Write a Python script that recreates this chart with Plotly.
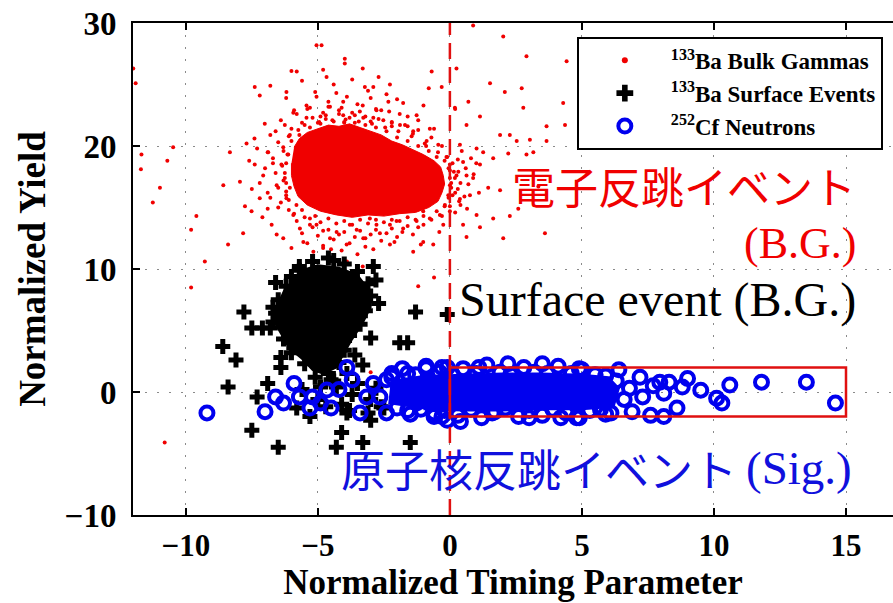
import plotly.graph_objects as go

# ---------------- data (normalized timing parameter, normalized yield) ----------------
# 133Ba bulk gammas: outline of the saturated high-density region
bulk_core_x = [-5.9, -5.7, -5.4, -5.0, -4.6, -4.2, -3.8, -3.4, -3.0, -2.6, -2.2, -1.8, -1.4,
               -1.0, -0.6, -0.35, -0.25, -0.2, -0.3, -0.45, -0.8, -1.3, -1.9, -2.5, -3.1,
               -3.7, -4.3, -4.9, -5.4, -5.75, -5.9, -6.0, -6.0]
bulk_core_y = [19.9, 20.6, 21.1, 21.4, 21.7, 21.6, 21.8, 21.5, 21.2, 20.9, 20.4, 20.1, 19.7,
               19.3, 18.8, 18.3, 17.6, 16.9, 16.2, 15.5, 15.0, 14.6, 14.5, 14.3, 14.4,
               14.2, 14.4, 14.7, 15.2, 15.9, 16.7, 17.6, 18.6]

# 133Ba bulk gammas: individual events around the dense region and outliers
bulk_x = [-5.8, -5.3, -4.9, -4.6, -4.2, -3.9, -3.6, -3.3, -2.9, -2.6, -2.2, -1.9, -1.6, -1.2,
          -5.1, -4.4, -3.7, -5.6, -3.1, -2.4, -6.2, -4.0, -5.0, -6.4, -1.0, -0.6, -2.0, -4.8,
          -3.3, -6.0, -2.7, -0.8, 0.2, -6.8,
          -5.8, -5.05, -4.86, -3.98, -3.98, -4.67, -7.39, -7.2, -6.19, -3.22, -2.9, -2.27,
          -0.69, -0.31, 0.25, 0.88, 2.02, 2.9, 4.42, 2.08, 2.72, 1.52, 4.29, 4.36, 3.66,
          2.78, 2.27, 3.03, 2.53, 1.14, 1.9, 3.6, 2.02, 2.27, 2.59, 1.64, 1.9, 1.45, 3.35,
          2.9, 2.21, 3.16, 3.66, 0.63, 1.14, 1.01, 0.5, 0.38, 0.76, 0.63, 1.14, 1.01, 0.32,
          0.38, 0.63, 0.7, 0.19, -11.68, -10.98, -10.48, -9.6, -9.28, -8.4, -7.83, -8.58,
          -8.33, -7.95, -7.7, -7.39, -7.76, -7.51, -7.2, -7.07, -6.88, -7.01, -6.56, -6.75,
          -6.56, -6.31, -6.0, -5.55, -5.17, -4.54, -4.8, -3.91, -3.28, -2.65, -2.27, -1.77,
          -1.01, -0.63, -1.39, -0.25, 0.0, -0.06, 0.19, 0.0, -0.44, -0.76, -1.26, -1.77,
          -2.33, -2.78, -3.41, -4.04, -4.54, -5.05, -5.43, -5.93, -6.25, -6.06, -6.31, -6.38,
          -6.25, -6.19, -5.93, -5.68, -5.05, -4.29, -3.53, -2.78, -2.02, -1.26, -0.76, -0.19,
          0.0, -0.13, -0.88, -1.39, -1.89, -2.52, -3.28, -4.04, -4.8, -5.43, -5.74, -6.12,
          -6.06, -5.81, -5.3, -4.54, -3.79, -3.03, -2.27, -1.01, -0.38, 0.5, 0.88, 1.26, 1.64,
          -11.99, -10.8, -9.8, -9.8, -11.25, -10.7, -11.7, -11.9, -1.2, -0.6, -3.0,
          -5.6, -5.2, -4.95, -4.7, -4.45, -4.2, -3.95, -3.7, -3.45, -3.2, -2.95, -2.7, -2.45,
          -2.2, -1.95, -1.7, -1.45, -1.2, -0.95, -0.7, -0.45, -0.3,
          -5.4, -4.6, -4.1, -3.5, -2.8, -2.3, -1.6, -5.9, -3.0, -4.3,
          -0.1, 0.1, 0.0, 0.25, 0.05, 0.3, 0.1, 0.35, 0.0, 0.2, -0.3, 0.6, 0.7, 0.55, 0.8,
          0.45, 0.9, 0.65, 1.1, 1.0,
          -0.7, -1.0, -1.3, -1.6, -1.9, -2.2, -2.5, -2.8, -3.1, -3.4, -3.7, -4.0, -4.3, -4.6,
          -4.9, -5.2, -5.5, -5.8, -1.4, -2.0, -2.6, -3.2, -3.8, -4.4, -5.0, -5.6, -4.1, -3.5,
          -2.9, -4.8, -3.9, -4.6, -3.3,
          -6.1, -6.4, -6.2, -6.5, -6.3, -6.6, -6.35, -6.7, -6.3, -6.5, -6.1, -6.9, -7.0, -6.8,
          -7.2, -6.9, -7.3, -6.0,
          -5.7, -5.3, -4.9, -4.4, -4.0, -3.6, -3.2, -2.8, -2.4, -2.0, -1.6, -1.2, -0.8, -0.5,
          -5.5, -4.7, -3.8, -3.0, -2.2, -1.4, -0.9, -0.2,
          -0.05, 0.0, 0.05, -0.05, -0.2, -0.5, 0.2, 0.15, 0.3, 0.4, 0.4,
          -1.0, -1.6, -2.2, -2.8, -3.4, -4.0, -4.6, -5.1, -5.6, -1.2, -1.8, -2.4, -3.0, -3.6,
          -4.2, -4.8, -5.3, -5.9, -2.1, -3.2, -4.5, -5.4, -1.1, -0.4,
          -6.1, -6.2, -6.2, -6.25, -6.2, -6.15, -6.0, -6.5, -6.8, -6.7, -6.6, -6.9, -7.5, -7.6,
          -7.4, -7.1]
bulk_y = [22.6, 23.1, 22.4, 23.6, 22.9, 24.0, 22.5, 23.3, 22.3, 22.9, 21.9, 22.6, 21.6, 22.1,
          24.4, 25.0, 25.4, 25.3, 24.5, 24.2, 23.9, 21.9, 21.9, 22.1, 23.3, 21.4, 23.8, 26.2,
          26.3, 26.1, 25.6, 24.7, 23.0, 24.9,
          26.05, 28.2, 28.2, 27.1, 26.7, 25.6, 24.8, 24.1, 24.4, 24.8, 24.8, 25.0,
          26.05, 24.8, 26.3, 29.8, 28.9, 27.3, 26.9, 24.4, 24.7, 25.1, 23.5, 21.7, 21.6,
          23.1, 20.9, 20.5, 20.4, 22.4, 20.9, 12.9, 12.5, 14.3, 14.9, 14.1, 16.4, 16.6, 16.7,
          19.3, 19.4, 19.5, 20.4, 12.6, 13.4, 14.4, 13.6, 15.7, 16.0, 17.6, 18.5, 19.8, 17.9,
          20.1, 21.7, 23.6, 23.1, 19.3, 16.6, 19.9, 14.3, 10.6, 12.0, 12.9, 16.8,
          19.5, 17.1, 20.2, 18.5, 15.1, 14.7, 15.75, 17.6, 19.5, 21.8, 16.8, 13.6,
          12.8, 12.5, 11.7, 12.2, 11.4, 10.9, 11.7, 12.0, 12.5, 12.9, 12.0, 13.3,
          12.2, 12.0, 11.4, 13.6, 14.7, 16.0, 17.4, 18.5, 20.1, 21.4, 22.5, 23.5,
          23.6, 22.9, 22.8, 23.6, 23.2, 24.0, 23.3, 22.7, 21.7, 20.9, 19.9, 18.5,
          17.4, 15.75, 14.4, 13.3, 13.6, 13.0, 13.2, 13.6, 13.9, 13.9, 14.1, 15.2,
          16.8, 19.1, 20.4, 21.2, 21.7, 22.1, 22.3, 22.5, 22.7, 22.3, 21.3, 19.3,
          16.6, 15.2, 14.1, 12.5, 13.6, 14.1, 13.6, 14.7, 14.4, 18.7, 17.4, 19.5, 19.0,
          26.3, -4.1, 8.5, 13.2, 15.4, 18.8, 18.1, 25.1, 8.6, 9.3, 1.6,
          21.9, 22.3, 21.95, 22.5, 22.1, 22.6, 22.15, 22.7, 22.0, 22.4, 21.8, 22.2, 21.5,
          21.95, 21.2, 21.7, 20.8, 21.3, 20.2, 20.7, 19.5, 20.0,
          23.0, 23.2, 23.1, 23.4, 23.0, 22.8, 22.4, 22.9, 23.9, 24.3,
          19.1, 18.6, 18.0, 17.6, 17.0, 16.5, 16.0, 15.5, 15.1, 14.6, 14.3, 18.2, 16.9, 15.9,
          19.0, 19.6, 17.7, 14.9, 16.2, 18.6,
          14.0, 13.6, 14.0, 13.5, 13.9, 13.3, 13.8, 13.2, 13.7, 13.1, 13.6, 13.0, 13.7, 13.2,
          13.8, 13.4, 14.2, 13.9, 12.8, 12.6, 12.3, 12.5, 12.1, 12.4, 12.7, 12.9, 11.5, 11.2,
          11.6, 11.9, 10.6, 10.5, 10.2,
          14.8, 15.4, 16.0, 16.6, 17.2, 17.8, 18.4, 19.0, 19.6, 20.3, 20.8, 16.2, 18.2, 20.9,
          17.0, 14.9, 19.8, 21.4,
          20.9, 21.5, 21.8, 22.0, 21.95, 21.9, 21.7, 21.5, 21.2, 20.7, 20.4, 20.0, 19.6, 19.1,
          21.7, 22.2, 22.3, 22.0, 21.6, 21.0, 20.0, 18.8,
          18.2, 17.4, 16.6, 15.8, 15.1, 14.7, 16.2, 17.9, 18.9, 17.0, 15.2,
          14.3, 14.2, 14.0, 14.0, 14.0, 13.9, 14.1, 14.3, 14.8, 13.4, 13.0, 12.9, 12.8, 12.6,
          12.8, 13.1, 13.6, 14.5, 12.2, 11.8, 11.6, 12.1, 12.0, 13.0,
          15.6, 16.3, 17.0, 17.8, 18.6, 19.3, 20.4, 15.0, 15.8, 18.6, 21.2, 19.5, 16.5, 18.8,
          20.6, 14.2]

# 133Ba surface events: outline of the saturated region
surface_core_x = [-5.6, -5.0, -4.2, -3.5, -3.1, -3.0, -3.3, -3.7, -4.0, -4.3, -4.8,
                  -5.2, -5.6, -6.0, -6.3, -6.6, -6.5, -6.2]
surface_core_y = [9.9, 10.3, 10.1, 9.5, 8.4, 6.9, 5.6, 4.3, 3.2, 2.0, 1.5,
                  1.8, 2.7, 3.4, 4.4, 5.5, 7.2, 8.6]

# 133Ba surface events: individual events
surface_x = [-1.3, -0.1, -3.0, -1.9, -1.6, -8.6, -8.1, -7.8, -7.5, -7.1, -8.4, -7.5, -6.5,
             -6.9, -7.3, -5.8, -4.1, -4.3, -3.3, -1.5, -2.5, -3.0, -3.8, -2.7, -2.9, -2.8,
             -4.4, -5.7, -6.6, -6.7, -6.7, -6.4, -6.1, -6.4,
             -5.7, -5.2, -4.6, -4.0, -3.5, -3.1, -3.0, -3.2, -3.4, -3.8, -4.0, -4.2, -4.6,
             -5.1, -5.5, -6.0, -6.3, -6.8, -6.6, -6.5, -6.2, -6.0, -4.9, -4.4, -5.6, -3.6,
             -3.7, -4.1, -5.0, -5.3, -3.0, -2.8, -4.3, -3.9, -3.5, -4.7, -3.9, -3.1, -2.6,
             -4.5, -3.3, -5.0, -4.8, -5.4]
surface_y = [6.5, 6.3, 4.4, 4.0, 4.0, 3.7, 2.6, 6.5, 5.2, 5.2, 0.4, -3.1, -4.5,
             0.7, -0.4, -1.3, -3.3, -4.5, -4.1, -4.1, -1.3, -2.3, -1.5, 7.2, 10.2, 9.1,
             10.7, 9.9, 8.9, 6.9, 5.7, 2.8, 4.0, 2.0,
             10.2, 10.6, 10.9, 10.4, 9.8, 8.8, 7.8, 6.6, 5.5, 4.6, 3.4, 2.4, 1.5,
             1.2, 2.3, 3.2, 4.3, 5.2, 6.4, 7.5, 8.6, 9.4, 0.4, 0.9, 0.2, 3.0,
             -0.2, -1.0, -0.6, -2.0, -0.6, 0.3, 0.4, 1.5, 0.7, -1.2, -1.7, -1.7, -1.2,
             1.0, 2.2, 8.0, 6.0, 4.8]

# 252Cf neutrons: outline of the saturated band
neutron_core_x = [-2.3, -2.2, -1.0, 0.5, 2.0, 3.5, 5.0, 6.0, 6.4, 6.2, 5.0, 3.5, 2.0, 0.5, -1.0]
neutron_core_y = [-1.0, 0.9, 1.3, 1.4, 1.5, 1.5, 1.4, 1.2, 0.3, -1.2, -1.4, -1.4, -1.5, -1.5, -1.4]

# 252Cf neutrons: individual events
neutron_x = [10.6, 11.8, 13.5, 14.6, 10.1, 10.3, 9.5, 9.0, 8.8, 8.3, 7.95, 8.1, 8.6, 8.1,
             7.6, 7.2, 6.9, 6.4, 2.2, 3.5, 1.1, -0.3, 4.9, 1.6, 3.0, 4.2, 4.9, 5.9, -0.1,
             0.4,
             -9.2, -7.0, -6.6, -5.9, -6.3, -5.3, -5.2, -3.9, -4.9, -4.5, -3.7, -4.2, -2.9,
             -2.2, -1.6, -0.9, -0.1, -2.4, -1.6, -3.4, -0.6, -0.3, -4.66, -3.15, -2.65,
             -1.9, -1.26, -1.26, -2.4, -5.7,
             -2.2, -1.8, -1.3, -0.9, -0.4, 0.1, 0.5, 1.0, 1.4, 1.9, 2.3, 2.8, 3.2, 3.7, 4.1,
             4.6, 5.0, 5.5, 5.9, 6.3,
             -2.0, -1.5, -1.1, -0.6, -0.2, 0.3, 0.8, 1.2, 1.7, 2.1, 2.6, 3.0, 3.5, 3.9, 4.4,
             4.8, 5.3, 5.7, 6.1, 6.6, 6.8, 7.3, 7.7]
neutron_y = [0.57, 0.8, 0.8, -0.9, -0.5, -0.9, 0.15, 1.1, 0.4, 0.8, 0.8, -0.1, -1.3, -2.0,
             -1.9, 1.2, -1.6, 1.8, 2.3, 2.3, 2.0, 2.0, 1.9, -1.7, -2.1, -2.1, -2.1, -1.8, -2.3,
             -2.4,
             -1.7, -1.6, -0.4, 0.7, -0.9, -1.3, -0.4, 2.0, -0.9, -1.3, 1.0, 0.2, 0.7,
             1.2, 1.5, 1.9, 2.0, -1.7, -1.5, -1.7, -1.7, -2.0, 0.16, -0.4, -0.4,
             -0.1, 0.16, -0.9, 1.0, -0.4,
             1.5, 1.9, 1.4, 2.1, 1.6, 1.4, 1.9, 1.5, 2.2, 1.6, 1.4, 2.0, 1.6, 1.5, 2.1,
             1.5, 1.8, 1.4, 1.3, 0.9,
             -1.3, -1.8, -1.4, -2.0, -1.5, -1.9, -1.4, -2.1, -1.6, -1.3, -2.0, -1.5, -1.9, -1.4,
             -1.7, -2.1, -1.5, -1.4, -1.7, -0.6, 0.3, -0.4, 0.5]

# analysis cut and signal region
timing_cut = 0
signal_box_x = [0, 15]
signal_box_y = [-2, 2]

legend_names = ["<sup>133</sup>Ba Bulk Gammas",
                "<sup>133</sup>Ba Surface Events",
                "<sup>252</sup>Cf Neutrons"]

x_range = [-12, 16.78]
y_range = [-10, 30]

RED = "#f00000"
BLUE = "#0000ee"
SERIF = "Liberation Serif, Times New Roman, serif"
JP = "Noto Sans CJK JP, sans-serif"

fig = go.Figure()

# bulk gammas
fig.add_trace(go.Scatter(x=bulk_core_x, y=bulk_core_y, mode="lines", fill="toself",
                         fillcolor=RED, line=dict(color=RED, width=1),
                         showlegend=False, hoverinfo="skip"))
fig.add_trace(go.Scatter(x=bulk_x, y=bulk_y, mode="markers",
                         marker=dict(color=RED, size=4), showlegend=False))

# surface events
fig.add_trace(go.Scatter(x=surface_core_x, y=surface_core_y, mode="lines", fill="toself",
                         fillcolor="black", line=dict(color="black", width=2),
                         showlegend=False, hoverinfo="skip"))
fig.add_trace(go.Scatter(x=surface_x, y=surface_y, mode="markers",
                         marker=dict(color="black", size=12.5, symbol="cross"),
                         showlegend=False))

# neutrons
fig.add_trace(go.Scatter(x=neutron_core_x, y=neutron_core_y, mode="lines", fill="toself",
                         fillcolor=BLUE, line=dict(color=BLUE, width=2),
                         showlegend=False, hoverinfo="skip"))
fig.add_trace(go.Scatter(x=neutron_x, y=neutron_y, mode="markers",
                         marker=dict(color="rgba(0,0,0,0)", size=13, symbol="circle",
                                     line=dict(color=BLUE, width=4)),
                         showlegend=False))

# legend entries
fig.add_trace(go.Scatter(x=[None], y=[None], mode="markers", name=legend_names[0],
                         marker=dict(color=RED, size=6)))
fig.add_trace(go.Scatter(x=[None], y=[None], mode="markers", name=legend_names[1],
                         marker=dict(color="black", size=14, symbol="cross")))
fig.add_trace(go.Scatter(x=[None], y=[None], mode="markers", name=legend_names[2],
                         marker=dict(color="rgba(0,0,0,0)", size=13, symbol="circle",
                                     line=dict(color=BLUE, width=4))))

# timing cut and signal region
fig.add_shape(type="line", x0=timing_cut, x1=timing_cut, y0=y_range[0], y1=y_range[1],
              line=dict(color="#e01010", width=2.5, dash="16px,8px"), layer="above")
fig.add_shape(type="rect", x0=signal_box_x[0], x1=signal_box_x[1],
              y0=signal_box_y[0], y1=signal_box_y[1],
              line=dict(color="#e01010", width=2.5), layer="above")

# labels
fig.add_annotation(x=15.45, y=16.8, text="電子反跳イベント", showarrow=False,
                   xanchor="right", yanchor="middle",
                   font=dict(family=JP, size=43, color=RED))
fig.add_annotation(x=15.45, y=12.1, text="(B.G.)", showarrow=False,
                   xanchor="right", yanchor="middle",
                   font=dict(family=SERIF, size=44, color=RED))
fig.add_annotation(x=15.45, y=7.5, text="Surface event (B.G.)", showarrow=False,
                   xanchor="right", yanchor="middle",
                   font=dict(family=SERIF, size=48, color="black"))
fig.add_annotation(x=10.95, y=-6.2, text="原子核反跳イベント", showarrow=False,
                   xanchor="right", yanchor="middle",
                   font=dict(family=JP, size=44, color="#1010dd"))
fig.add_annotation(x=15.3, y=-6.2, text="(Sig.)", showarrow=False,
                   xanchor="right", yanchor="middle",
                   font=dict(family=SERIF, size=47, color="#1010dd"))

axis_common = dict(showline=True, linecolor="black", linewidth=2,
                   ticks="inside", ticklen=7, tickwidth=2, tickcolor="black",
                   showgrid=True, gridcolor="#8a8a8a", gridwidth=1, griddash="2px,10px",
                   zeroline=False)

fig.update_xaxes(range=x_range, dtick=5, tick0=0, mirror="ticks", ticklabelstandoff=2,
                 tickfont=dict(family=SERIF, size=31, color="black", weight="bold"),
                 title=dict(text="<b>Normalized Timing Parameter</b>", standoff=2,
                            font=dict(family=SERIF, size=35, color="black")),
                 **axis_common)
fig.update_yaxes(range=y_range, dtick=10, tick0=0, mirror=False, ticklabelstandoff=8,
                 tickfont=dict(family=SERIF, size=33, color="black", weight="bold"),
                 title=dict(text="<b>Normalized Yield</b>", standoff=8,
                            font=dict(family=SERIF, size=37, color="black")),
                 **axis_common)

fig.update_layout(
    width=893, height=603,
    margin=dict(l=133, r=0, t=23, b=88),
    paper_bgcolor="white", plot_bgcolor="white",
    showlegend=True,
    legend=dict(x=0.584, y=0.972, xanchor="left", yanchor="top",
                bgcolor="white", bordercolor="black", borderwidth=2,
                font=dict(family=SERIF, size=23, color="black", weight="bold"),
                itemwidth=82, tracegroupgap=0),
)

fig.write_html("out.html")
